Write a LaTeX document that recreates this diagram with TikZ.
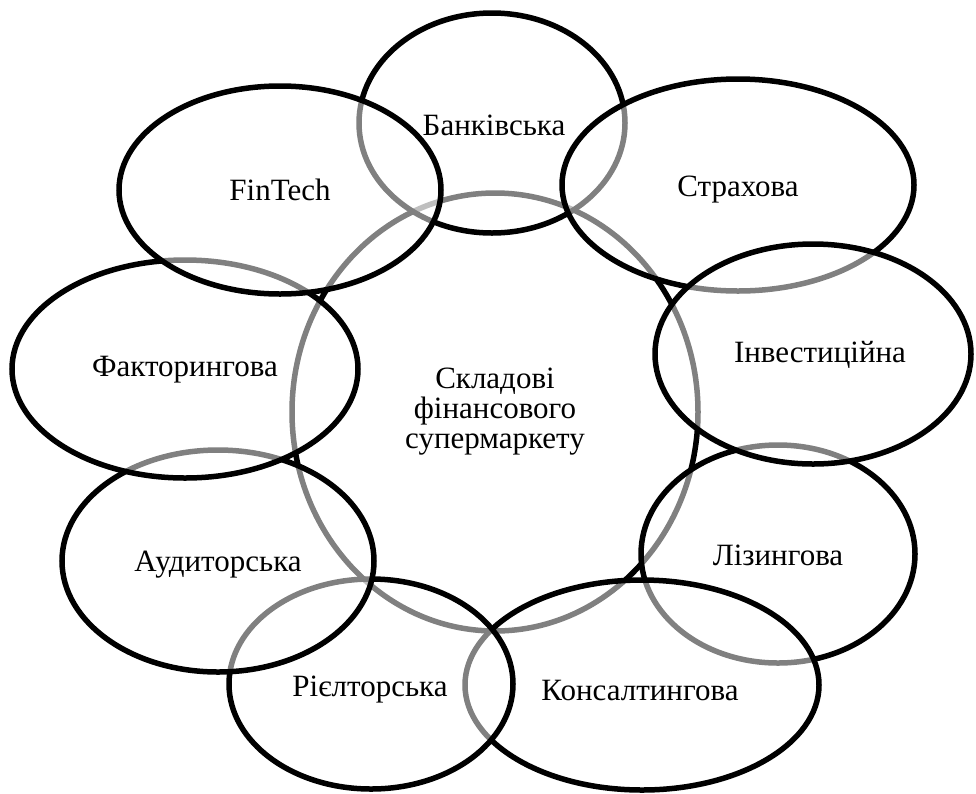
\documentclass[tikz,border=0pt]{standalone}
\usepackage{fontspec}
\setmainfont{Liberation Serif}
\usetikzlibrary{shapes.geometric}

\tikzset{
  ring/.style={ellipse, draw, line width=5.5pt, fill=white, fill opacity=0.5, inner sep=0pt},
  lbl/.style={font=\fontsize{31}{30}\selectfont, align=center, inner sep=0pt}
}

\begin{document}
\begin{tikzpicture}[x=1pt,y=-1pt]
	\useasboundingbox (0,0) rectangle (976,793);
	% central ellipse first, outer rings laid over it
	\node[ellipse, draw, line width=5.5pt, inner sep=0pt, minimum width=406pt, minimum height=438pt] (core) at (495,412) {};
	\node[ring, minimum width=266pt, minimum height=220pt] (bank) at (492,123) {};
	\node[ring, minimum width=352pt, minimum height=212pt] (strakh) at (738,185) {};
	\node[ring, minimum width=274pt, minimum height=218pt] (lizing) at (778,554) {};
	\node[ring, minimum width=316pt, minimum height=220pt] (invest) at (813,354) {};
	\node[ring, minimum width=354pt, minimum height=210pt] (konsalt) at (642,685) {};
	\node[ring, minimum width=284pt, minimum height=210pt] (rielt) at (371,684) {};
	\node[ring, minimum width=312pt, minimum height=222pt] (audyt) at (218,561) {};
	\node[ring, minimum width=346pt, minimum height=218pt] (faktor) at (185,369) {};
	\node[ring, minimum width=322pt, minimum height=208pt] (fintech) at (280,190) {};
	% labels
	\node[lbl] (t-core) at (495,412) {Складові\\фінансового\\супермаркету};
	\node[lbl] (t-bank) at (494,125) {Банківська};
	\node[lbl] (t-strakh) at (738,190) {Страхова};
	\node[lbl] (t-invest) at (820,355) {Інвестиційна};
	\node[lbl] (t-lizing) at (778,555) {Лізингова};
	\node[lbl] (t-konsalt) at (640,690) {Консалтингова};
	\node[lbl] (t-rielt) at (370,690) {Рієлторська};
	\node[lbl] (t-audyt) at (218,565) {Аудиторська};
	\node[lbl] (t-faktor) at (185,370) {Факторингова};
	\node[lbl] (t-fintech) at (280,190) {FinTech};
\end{tikzpicture}
\end{document}
